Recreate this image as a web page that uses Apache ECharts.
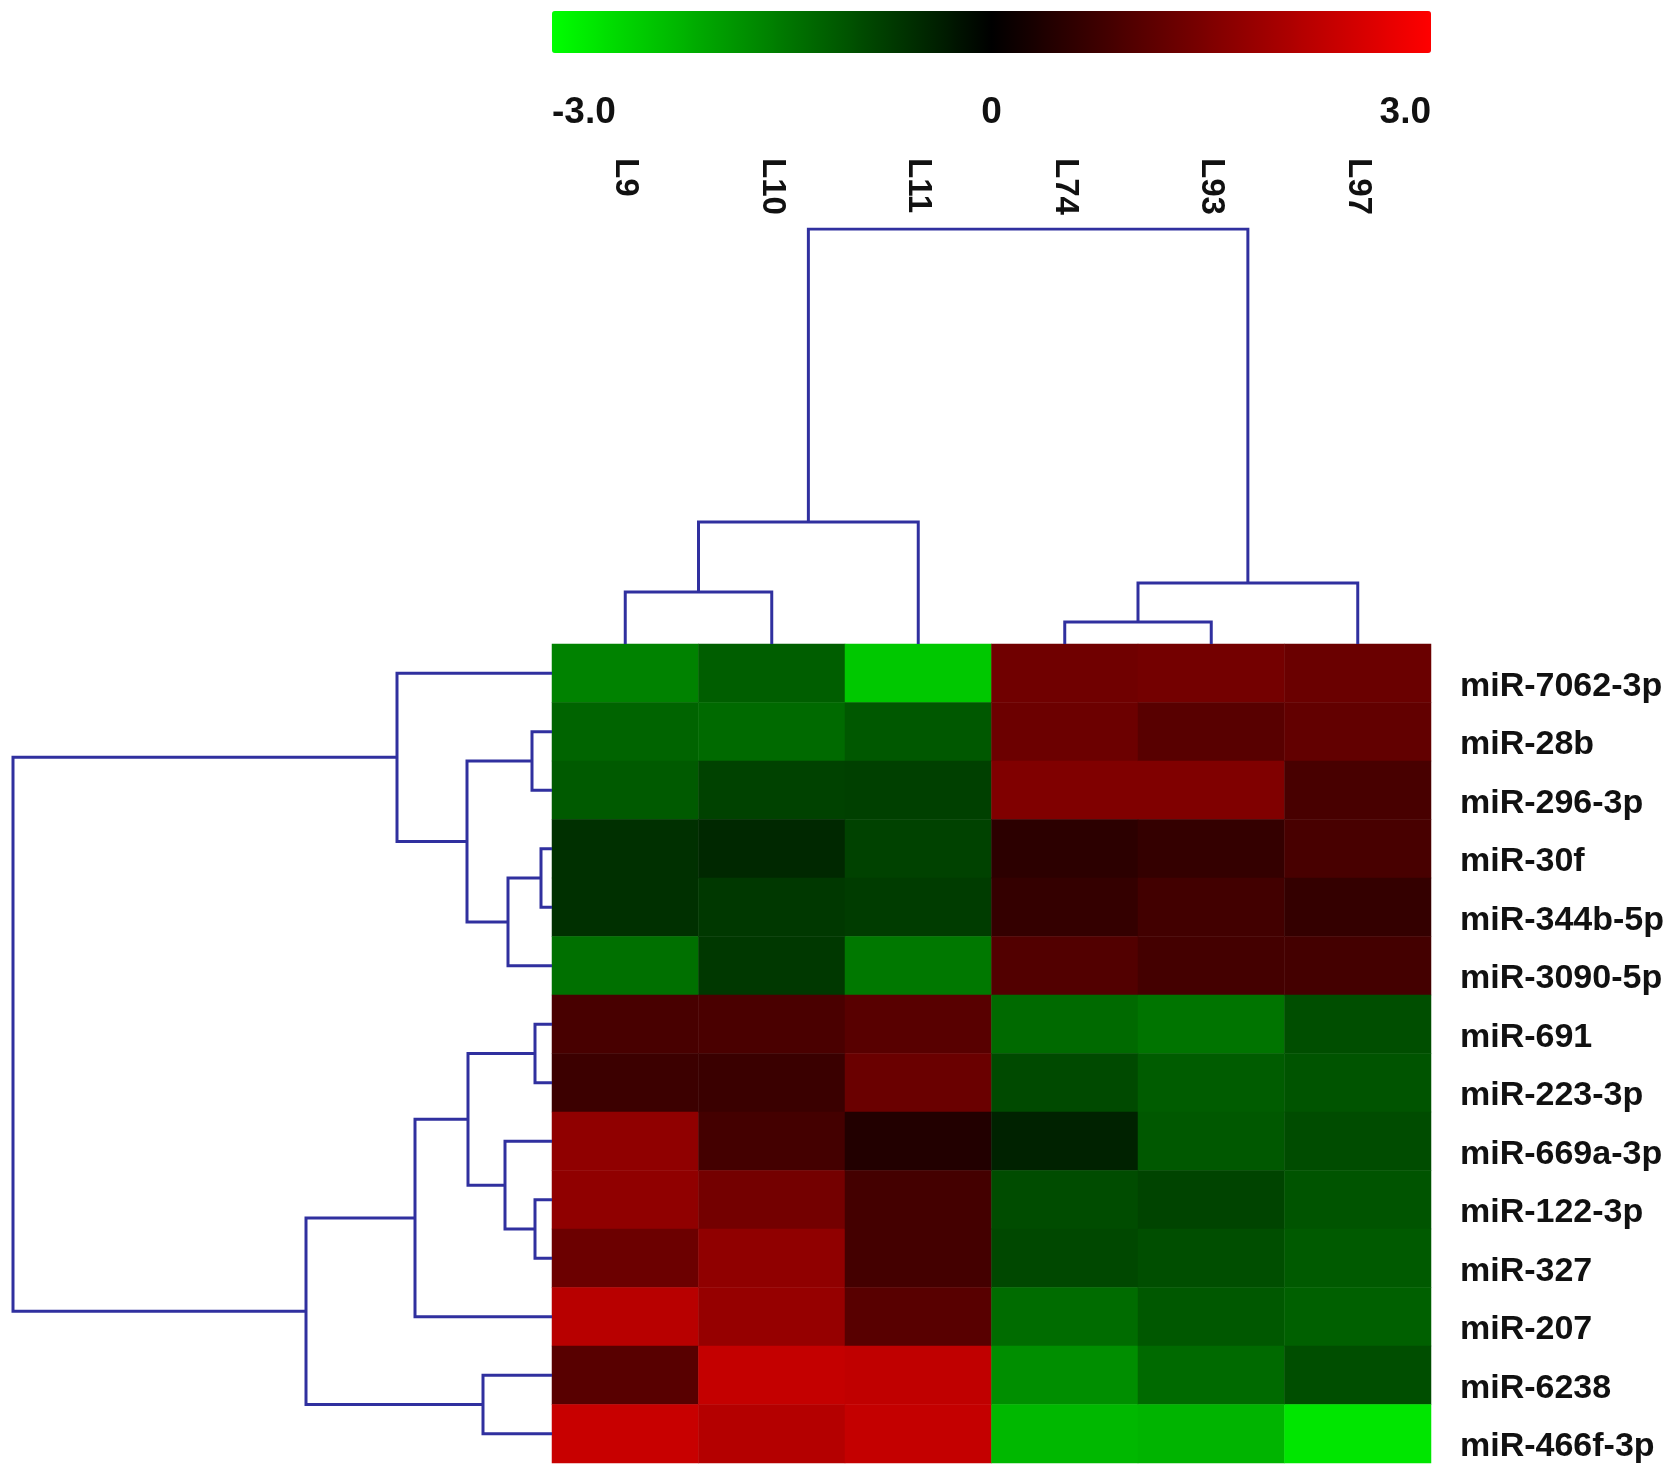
<!DOCTYPE html>
<html><head><meta charset="utf-8">
<script src="https://cdn.jsdelivr.net/npm/echarts@6/dist/echarts.min.js"></script>
<style>html,body{margin:0;padding:0;background:#fff}#c{width:1677px;height:1482px}</style>
</head><body><div id="c"></div>
<script>
// ---- data ----
const columns = ['L9', 'L10', 'L11', 'L74', 'L93', 'L97'];
const rows = ['miR-7062-3p', 'miR-28b', 'miR-296-3p', 'miR-30f', 'miR-344b-5p', 'miR-3090-5p',
  'miR-691', 'miR-223-3p', 'miR-669a-3p', 'miR-122-3p', 'miR-327', 'miR-207', 'miR-6238', 'miR-466f-3p'];
// expression values per column (rows in order above)
const valL9  = [-1.53, -1.18, -1.06, -0.56, -0.56, -1.32, 0.85, 0.71, 1.69, 1.69, 1.27, 2.16, 1.04, 2.35];
const valL10 = [-1.11, -1.25, -0.78, -0.47, -0.66, -0.66, 0.87, 0.68, 0.80, 1.36, 1.69, 1.76, 2.31, 2.12];
const valL11 = [-2.35, -1.04, -0.75, -0.78, -0.71, -1.41, 1.04, 1.25, 0.40, 0.80, 0.80, 1.04, 2.26, 2.31];
const valL74 = [1.32, 1.27, 1.51, 0.52, 0.61, 0.96, -1.25, -0.87, -0.40, -0.89, -0.85, -1.27, -1.67, -2.16];
const valL93 = [1.36, 1.04, 1.51, 0.61, 0.78, 0.80, -1.36, -1.08, -1.04, -0.80, -0.92, -1.04, -1.25, -2.12];
const valL97 = [1.25, 1.15, 0.85, 0.85, 0.61, 0.80, -0.92, -0.99, -0.89, -0.99, -1.06, -1.13, -0.92, -2.71];
// hierarchical clustering merges: [childA, childB, height]; new node ids follow the leaves
const colLinkage = [[0, 1, 0.52], [6, 2, 1.22], [3, 4, 0.22], [8, 5, 0.61], [7, 9, 4.15]];
const rowLinkage = [[3, 4, 0.11], [1, 2, 0.20], [14, 5, 0.44], [15, 16, 0.85], [0, 17, 1.55],
  [6, 7, 0.17], [9, 10, 0.17], [8, 20, 0.47], [19, 21, 0.84], [22, 11, 1.37], [12, 13, 0.69],
  [23, 24, 2.46], [18, 25, 5.39]];
const scaleMin = -3, scaleMax = 3, scaleStep = 3;

// ---- build ----
const colValues = [valL9, valL10, valL11, valL74, valL93, valL97];
const heatData = [];
colValues.forEach((col, c) => col.forEach((v, r) => heatData.push([c, r, v])));

function dendro(linkage, n, swap) {
  const pos = [], h = [];
  for (let i = 0; i < n; i++) { pos[i] = i; h[i] = 0; }
  const segs = [];
  linkage.forEach(([a, b, height]) => {
    const id = pos.length;
    pos[id] = (pos[a] + pos[b]) / 2; h[id] = height;
    const pts = [[pos[a], h[a]], [pos[a], height], [pos[b], height], [pos[b], h[b]]];
    segs.push({ coords: swap ? pts.map(p => [p[1], p[0]]) : pts });
  });
  return { segs, top: h[h.length - 1] };
}
const colD = dendro(colLinkage, columns.length, false);
const rowD = dendro(rowLinkage, rows.length, true);

const FONT = 'Liberation Sans, Arial, sans-serif';
const LINE = { color: '#30309f', width: 3, opacity: 1 };
const hidden = { axisLine: { show: false }, axisTick: { show: false }, axisLabel: { show: false }, splitLine: { show: false } };

const chart = echarts.init(document.getElementById('c'));
chart.setOption({
  backgroundColor: '#ffffff',
  animation: false,
  grid: [
    { left: 552, top: 644, width: 879, height: 819 },
    { left: 552, top: 229, width: 879, height: 415 },
    { left: 13, top: 644, width: 539, height: 819 },
    { left: 552, top: 100, width: 879, height: 58 },
    { left: 552, top: 11, width: 879, height: 42 }
  ],
  xAxis: [
    Object.assign({ gridIndex: 0, type: 'category', data: columns }, hidden),
    Object.assign({ gridIndex: 1, type: 'value', min: -0.5, max: columns.length - 0.5 }, hidden),
    Object.assign({ gridIndex: 2, type: 'value', min: 0, max: rowD.top, inverse: true }, hidden),
    { gridIndex: 3, type: 'category', data: columns, position: 'bottom',
      axisLine: { show: false }, axisTick: { show: false }, splitLine: { show: false },
      axisLabel: { interval: 0, rotate: -90, margin: 0, fontSize: 33, fontWeight: 'bold', color: '#111', fontFamily: FONT } },
    { gridIndex: 4, type: 'value', min: scaleMin, max: scaleMax, interval: scaleStep, position: 'bottom',
      axisLine: { show: false }, axisTick: { show: false }, splitLine: { show: false },
      axisLabel: { margin: 60, verticalAlign: 'middle', fontSize: 37, fontWeight: 'bold', color: '#111',
        fontFamily: 'Liberation Sans Narrow, Liberation Sans, Arial, sans-serif',
        alignMinLabel: 'left', alignMaxLabel: 'right',
        formatter: v => v === 0 ? '0' : v.toFixed(1) } }
  ],
  yAxis: [
    { gridIndex: 0, type: 'category', data: rows, inverse: true, position: 'right',
      axisLine: { show: false }, axisTick: { show: false }, splitLine: { show: false },
      axisLabel: { interval: 0, margin: 29, verticalAlign: 'top', lineHeight: 26, fontSize: 34, fontWeight: 'bold', color: '#111', fontFamily: FONT } },
    Object.assign({ gridIndex: 1, type: 'value', min: 0, max: colD.top }, hidden),
    Object.assign({ gridIndex: 2, type: 'value', min: -0.5, max: rows.length - 0.5, inverse: true }, hidden),
    Object.assign({ gridIndex: 3, type: 'value', min: 0, max: 1 }, hidden),
    Object.assign({ gridIndex: 4, type: 'value', min: 0, max: 1 }, hidden)
  ],
  visualMap: {
    type: 'continuous', min: scaleMin, max: scaleMax, orient: 'horizontal',
    left: 552, top: 11, itemWidth: 42, itemHeight: 879, padding: 0,
    calculable: false, seriesIndex: 0, hoverLink: false,
    inRange: { color: ['#00ff00', '#000000', '#ff0000'] }
  },
  series: [
    { type: 'heatmap', xAxisIndex: 0, yAxisIndex: 0, data: heatData, silent: true,
      emphasis: { disabled: true } },
    { type: 'lines', coordinateSystem: 'cartesian2d', xAxisIndex: 1, yAxisIndex: 1, polyline: true,
      silent: true, data: colD.segs, lineStyle: LINE },
    { type: 'lines', coordinateSystem: 'cartesian2d', xAxisIndex: 2, yAxisIndex: 2, polyline: true,
      silent: true, data: rowD.segs, lineStyle: LINE }
  ]
});
</script></body></html>
